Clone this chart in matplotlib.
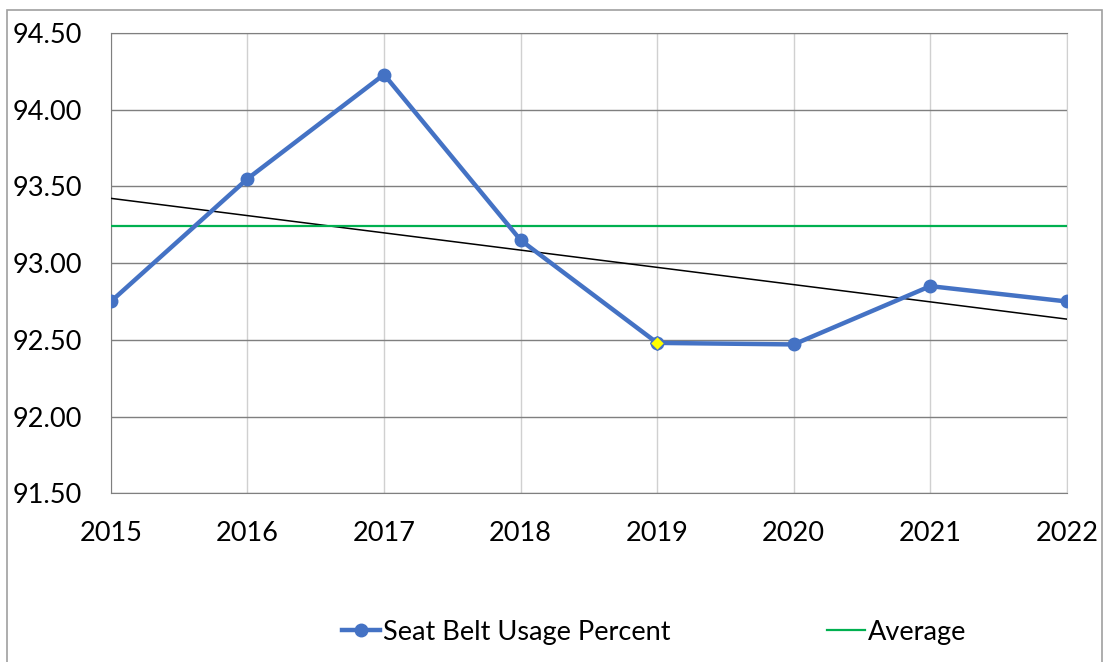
import numpy as np
import matplotlib.pyplot as plt
from matplotlib.patches import Rectangle

# Data
years = [2015, 2016, 2017, 2018, 2019, 2020, 2021, 2022]
usage = [92.75, 93.55, 94.23, 93.15, 92.48, 92.47, 92.85, 92.75]
average_value = 93.24
highlight_year = 2019

plt.rcParams['font.family'] = ['Lato', 'DejaVu Sans']

fig = plt.figure(figsize=(11.09, 6.62), dpi=100)
ax = fig.add_axes([0.100, 0.255, 0.862, 0.695])

blue = '#4472C4'
green = '#00B050'

# Linear trend line
coef = np.polyfit(years, usage, 1)
trend = np.polyval(coef, years)
ax.plot(years, trend, color='black', linewidth=1.1, zorder=3)

# Average line
ax.plot(years, [average_value] * len(years), color=green, linewidth=1.6,
        label='Average', zorder=3)

# Main series
ax.plot(years, usage, color=blue, linewidth=3.2, marker='o', markersize=9,
        label='Seat Belt Usage Percent', zorder=4)

# Highlighted point
idx = years.index(highlight_year)
ax.plot([years[idx]], [usage[idx]], marker='D', markersize=7.5, color='#FFFF00',
        markeredgecolor=blue, markeredgewidth=0.8, linestyle='none', zorder=5)

ax.set_xlim(2015, 2022)
ax.set_ylim(91.5, 94.5)
ax.set_xticks(years)
ax.set_yticks(np.arange(91.5, 94.51, 0.5))
ax.set_yticklabels([f'{v:.2f}' for v in np.arange(91.5, 94.51, 0.5)])

ax.tick_params(axis='both', length=0, labelsize=19.5)
ax.tick_params(axis='x', pad=20)
ax.tick_params(axis='y', pad=21)

ax.grid(axis='y', color='#7f7f7f', linewidth=1.0)
ax.grid(axis='x', color='#d0d0d0', linewidth=1.0)
ax.set_axisbelow(True)

for side in ['left', 'bottom', 'top']:
    ax.spines[side].set_color('#7f7f7f')
ax.spines['right'].set_color('#d0d0d0')

handles, labels = ax.get_legend_handles_labels()
fig.legend(handles[::-1], labels[::-1], loc='center', bbox_to_anchor=(0.590, 0.045),
           ncol=2, frameon=False, fontsize=19.5, columnspacing=5.8,
           handlelength=1.4, handletextpad=0.1)

# Outer border of the chart area
fig.patches.append(Rectangle((7 / 1109, -0.01), 1095 / 1109, 1 - 10 / 662 + 0.01,
                             transform=fig.transFigure, fill=False,
                             edgecolor='#a0a0a0', linewidth=1.2))

fig.savefig('out.png', dpi=100)
